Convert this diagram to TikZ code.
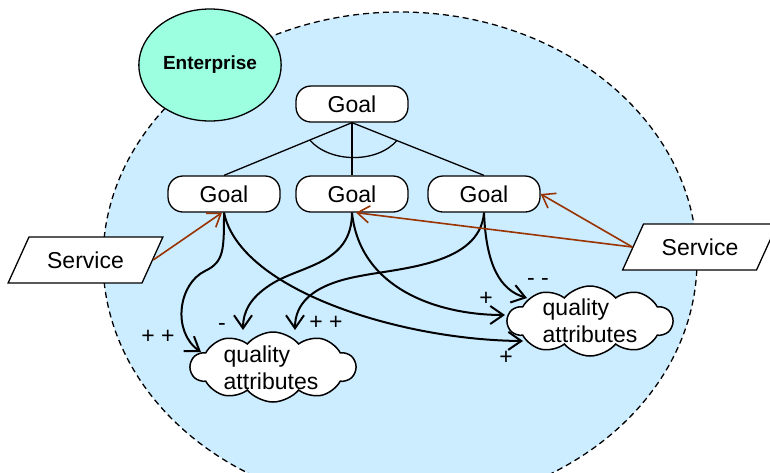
\documentclass[tikz,border=0pt]{standalone}
\usepackage{fontspec}
\setmainfont{Liberation Sans}
\usetikzlibrary{shapes.geometric, shapes.symbols, arrows.meta, positioning, calc}
\definecolor{entBlue}{HTML}{CCECFF}
\definecolor{entTeal}{HTML}{9CFFE0}
\definecolor{svcBrown}{HTML}{993300}
\newcommand{\diagfont}{\fontsize{23}{27}\selectfont}

\begin{document}
\begin{tikzpicture}[x=1pt, y=-1pt,
  goalbox/.style={draw, fill=white, rounded corners=15pt, minimum width=112pt,
    minimum height=36pt, inner sep=0pt, line width=1.3pt, font=\diagfont},
  svc/.style={draw, fill=white, trapezium, trapezium left angle=50,
    trapezium right angle=130, trapezium stretches=true, minimum width=155pt,
    minimum height=46pt, inner sep=0pt, line width=1.3pt, font=\diagfont},
  qcloud/.style={draw, fill=white, cloud, cloud puffs=10, cloud puff arc=100,
    cloud ignores aspect, minimum width=165pt, minimum height=70pt, line width=1.5pt},
  qtext/.style={align=left, inner sep=0pt, font=\diagfont},
  infl/.style={line width=2pt, -{Straight Barb[length=13pt,width=18pt]}},
  srv/.style={svcBrown, line width=1.6pt, -{Straight Barb[length=12pt,width=17pt]}},
  sign/.style={inner sep=0pt, font=\diagfont}]

  \useasboundingbox (0,0) rectangle (770,472);

  % enterprise scope
  \node[ellipse, draw, dash pattern=on 6pt off 4pt, fill=entBlue, line width=1.3pt,
    minimum width=594pt, minimum height=496pt, inner sep=0pt] (scope) at (400,260) {};
  \node[ellipse, draw, fill=entTeal, line width=1.3pt, minimum width=120pt,
    minimum height=112pt, font=\bfseries\fontsize{19}{22}\selectfont] (ent) at (210,65) {Enterprise};

  % goal tree
  \node[goalbox] (tG) at (352,104) {Goal};
  \node[goalbox] (lG) at (224,194) {Goal};
  \node[goalbox] (mG) at (352,194) {Goal};
  \node[goalbox] (rG) at (484,194) {Goal};
  \draw[line width=1.3pt] (tG.south) -- (lG.north);
  \draw[line width=1.3pt] (tG.south) -- (mG.north);
  \draw[line width=1.3pt] (tG.south) -- (rG.north);
  \draw[line width=1.3pt] ($(tG.south)!0.33!(lG.north)$) .. controls +(20,23) and +(-20,23)
    .. ($(tG.south)!0.34!(rG.north)$);

  % quality attributes
  \node[qcloud] (qL) at (273,367) {};
  \node[qtext] (qLt) at ([shift={(-2,1)}]qL.center) {quality\\attributes};
  \node[qcloud] (qR) at (590,321) {};
  \node[qtext] (qRt) at ([shift={(0,0)}]qR.center) {quality\\attributes};

  % contributions
  \draw[infl] (lG.south) .. controls (224,250) and (224,262) .. (205,271)
    .. controls (178,284) and (172,332) .. ([shift={(-72,-15)}]qL.center);
  \draw[infl] (lG.south) .. controls (240,290) and (400,340) .. ([shift={(-67,20)}]qR.center);
  \draw[infl] (mG.south) .. controls (352,265) and (300,265) .. (270,285)
    .. controls (250,298) and (243,312) .. ([shift={(-30,-37)}]qL.center);
  \draw[infl] (mG.south) .. controls (360,290) and (440,315) .. ([shift={(-85,-6)}]qR.center);
  \draw[infl] (rG.south) .. controls (480,265) and (400,268) .. (360,276)
    .. controls (310,285) and (295,305) .. ([shift={(22,-37)}]qL.center);
  \draw[infl] (rG.south) .. controls (486,265) and (500,290) .. ([shift={(-63,-23)}]qR.center);

  \node[sign] (s1) at (158,337) {+ +};
  \node[sign] (s2) at (222,327) {-};
  \node[sign] (s3) at (326,323) {+ +};
  \node[sign] (s4) at (486,299) {+};
  \node[sign] (s5) at (538,282) {- -};
  \node[sign] (s6) at (506,358) {+};

  % services
  \node[svc] (lS) at (85.5,260) {Service};
  \node[svc] (rS) at (700,247) {Service};
  \draw[srv] (lS.east) -- ([xshift=-2pt]lG.south);
  \draw[srv] (rS.west) -- ([xshift=4pt]mG.south);
  \draw[srv] (rS.west) -- (rG.east);
\end{tikzpicture}
\end{document}
